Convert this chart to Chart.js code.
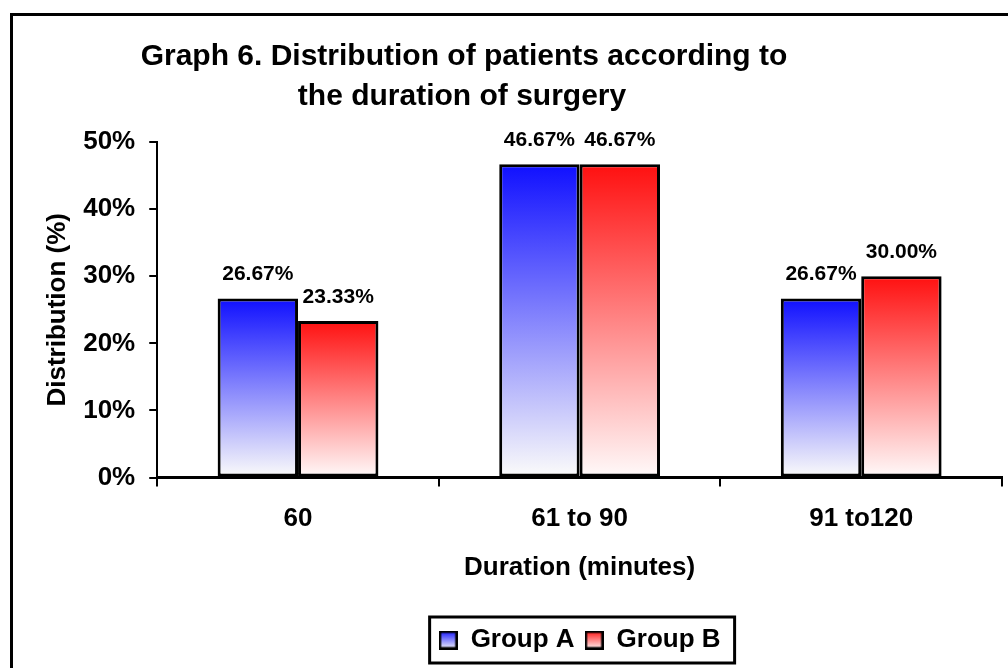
<!DOCTYPE html>
<html>
<head>
<meta charset="utf-8">
<title>Graph 6</title>
<script src="https://cdn.jsdelivr.net/npm/chart.js@4.4.0/dist/chart.umd.min.js"></script>
<style>
  body { margin: 0; background: #fff; }
  #wrap { position: relative; width: 1008px; height: 668px; overflow: hidden; }
  #frame { position: absolute; left: 10px; top: 13px; width: 1100px; height: 700px; border-left: 3px solid #000; border-top: 3px solid #000; }
  canvas { position: absolute; left: 0; top: 0; }
</style>
</head>
<body>
<div id="wrap">
  <div id="frame"></div>
  <canvas id="graph" width="1008" height="668"></canvas>
</div>
<script>
var categories = ['60', '61 to 90', '91 to120'];
var groupA = [26.67, 46.67, 26.67];
var groupB = [23.33, 46.67, 30.00];
var seriesNames = ['Group A', 'Group B'];
var titleLines = ['Graph 6. Distribution of patients according to', 'the duration of surgery'];
var yTitle = 'Distribution (%)';
var xTitle = 'Duration (minutes)';

var FONT = '"Liberation Sans", Arial, sans-serif';
var topColors = ['rgb(16,16,255)', 'rgb(255,16,16)'];
var bottomColors = ['rgb(252,252,250)', 'rgb(255,250,250)'];

// gradient from the top of each bar down to the x axis
function barFill(index) {
  return function(c) {
    var chart = c.chart;
    if (!chart.chartArea || c.type !== 'data') return topColors[index];
    var top = chart.scales.y.getPixelForValue(c.raw);
    var g = chart.ctx.createLinearGradient(0, top, 0, chart.chartArea.bottom);
    g.addColorStop(0, topColors[index]);
    g.addColorStop(1, bottomColors[index]);
    return g;
  };
}

// small square used as legend marker
function legendMarker(index) {
  var cv = document.createElement('canvas');
  cv.width = 19;
  cv.height = 19;
  var c = cv.getContext('2d');
  var g = c.createLinearGradient(0, 0, 0, 19);
  g.addColorStop(0, topColors[index]);
  g.addColorStop(1, bottomColors[index]);
  c.fillStyle = g;
  c.fillRect(0, 0, 19, 19);
  c.lineWidth = 2.5;
  c.strokeStyle = '#000';
  c.strokeRect(1.25, 1.25, 16.5, 16.5);
  return cv;
}

var titlePlugin = {
  id: 'graphTitle',
  afterDraw: function(chart) {
    var ctx = chart.ctx;
    ctx.save();
    ctx.font = 'bold 30px ' + FONT;
    ctx.fillStyle = '#000';
    ctx.textAlign = 'center';
    ctx.textBaseline = 'middle';
    ctx.fillText(titleLines[0], 464, 57);
    ctx.fillText(titleLines[1], 462, 97);
    ctx.restore();
  }
};

var valueLabels = {
  id: 'valueLabels',
  afterDatasetsDraw: function(chart) {
    var ctx = chart.ctx;
    ctx.save();
    ctx.font = 'bold 21px ' + FONT;
    ctx.fillStyle = '#000';
    ctx.textAlign = 'center';
    ctx.textBaseline = 'middle';
    chart.data.datasets.forEach(function(ds, i) {
      chart.getDatasetMeta(i).data.forEach(function(bar, j) {
        ctx.fillText(ds.data[j].toFixed(2) + '%', bar.x, bar.y - 24);
      });
    });
    ctx.restore();
  }
};

var legendBox = {
  id: 'legendBox',
  afterDraw: function(chart) {
    var boxes = chart.legend.legendHitBoxes;
    if (!boxes || !boxes.length) return;
    var first = boxes[0];
    var last = boxes[boxes.length - 1];
    var cy = first.top + first.height / 2;
    var ctx = chart.ctx;
    ctx.save();
    ctx.lineWidth = 3;
    ctx.strokeStyle = '#000';
    ctx.strokeRect(first.left - 9, cy - 23, last.left + last.width + 14 - (first.left - 9), 46);
    ctx.restore();
  }
};

Chart.defaults.color = '#000';
Chart.defaults.font.family = FONT;

var myChart = new Chart(document.getElementById('graph').getContext('2d'), {
  type: 'bar',
  data: {
    labels: categories,
    datasets: [{
      label: seriesNames[0],
      data: groupA,
      backgroundColor: barFill(0),
      borderColor: '#000',
      borderWidth: 3,
      borderSkipped: false
    }, {
      label: seriesNames[1],
      data: groupB,
      backgroundColor: barFill(1),
      borderColor: '#000',
      borderWidth: 3,
      borderSkipped: false
    }]
  },
  options: {
    responsive: false,
    animation: false,
    categoryPercentage: 0.571,
    barPercentage: 1,
    layout: { padding: { left: 42, top: 142, right: 6, bottom: 5 } },
    plugins: {
      tooltip: { enabled: false },
      legend: {
        position: 'bottom',
        fullSize: false,
        labels: {
          font: { size: 26, weight: 'bold' },
          usePointStyle: true,
          boxWidth: 19,
          boxHeight: 19,
          padding: 10,
          generateLabels: function(chart) {
            return chart.data.datasets.map(function(ds, i) {
              return { text: ds.label, pointStyle: legendMarker(i), datasetIndex: i, fontColor: '#000', lineWidth: 0 };
            });
          }
        }
      }
    },
    scales: {
      x: {
        border: { color: '#000', width: 3 },
        grid: { drawOnChartArea: false, color: '#000', lineWidth: 2, tickLength: 9 },
        ticks: { font: { size: 26, weight: 'bold' }, padding: 17 },
        title: { display: true, text: xTitle, font: { size: 26, weight: 'bold' }, padding: { top: 0, bottom: 34 } }
      },
      y: {
        min: 0,
        max: 50,
        border: { color: '#000', width: 2 },
        grid: { drawOnChartArea: false, color: '#000', lineWidth: 2, tickLength: 8 },
        ticks: { stepSize: 10, font: { size: 26, weight: 'bold' }, padding: 14, callback: function(v) { return v + '%'; } },
        title: { display: true, text: yTitle, font: { size: 26, weight: 'bold' }, padding: { top: 0, bottom: -4 } }
      }
    }
  },
  plugins: [titlePlugin, valueLabels, legendBox]
});
</script>
</body>
</html>
